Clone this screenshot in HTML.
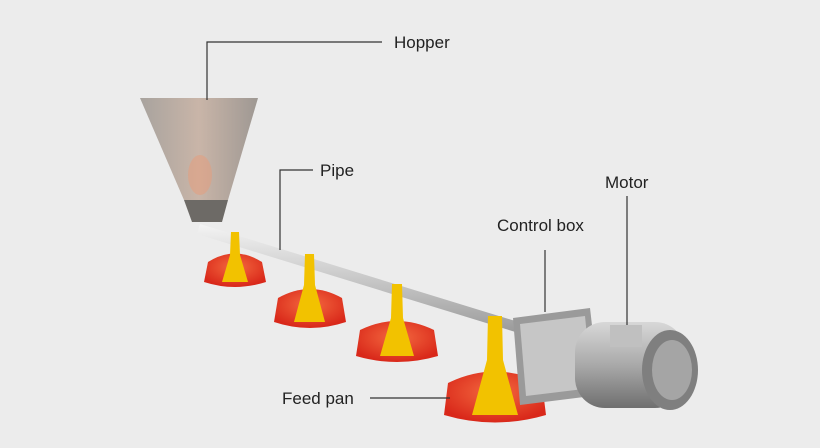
<!DOCTYPE html>
<html><head><meta charset="utf-8"><style>
html,body{margin:0;padding:0;background:#ececec;}
svg{display:block}
text{font-family:"Liberation Sans",sans-serif;font-size:17px;fill:#222}
</style></head><body>
<svg width="820" height="448" viewBox="0 0 820 448">
<defs>
<linearGradient id="hop" x1="0" x2="1"><stop offset="0" stop-color="#a8a39e"/><stop offset="0.5" stop-color="#c9b5a8"/><stop offset="1" stop-color="#9e9893"/></linearGradient>
<linearGradient id="pipe" x1="0" y1="0" x2="0" y2="1"><stop offset="0" stop-color="#f4f4f4"/><stop offset="0.5" stop-color="#c8c8c8"/><stop offset="1" stop-color="#999"/></linearGradient>
<radialGradient id="pan" cx="0.5" cy="0.4" r="0.6"><stop offset="0" stop-color="#f46a40"/><stop offset="1" stop-color="#d9281a"/></radialGradient>
<linearGradient id="mot" x1="0" y1="0" x2="0" y2="1"><stop offset="0" stop-color="#d8d8d8"/><stop offset="0.5" stop-color="#a9a9a9"/><stop offset="1" stop-color="#6f6f6f"/></linearGradient>
</defs>
<rect width="820" height="448" fill="#ececec"/>
<polygon points="140,98 258,98 228,200 184,200" fill="url(#hop)"/>
<polygon points="184,200 228,200 222,222 192,222" fill="#6d6a66"/>
<ellipse cx="200" cy="175" rx="12" ry="20" fill="#e79b7a" opacity="0.5"/>
<polygon points="200,224 525,324 522,334 197,234" fill="url(#pipe)"/>
<g>
<path d="M208,262 Q235,245 262,262 L266,282 Q235,292 204,282 Z" fill="url(#pan)"/>
<polygon points="231,232 239,232 240,255 248,282 222,282 230,255" fill="#f2c200"/>
</g>
<g>
<path d="M278,298 Q310,280 342,298 L346,322 Q310,334 274,322 Z" fill="url(#pan)"/>
<polygon points="305,254 314,254 315,285 325,322 294,322 304,285" fill="#f2c200"/>
</g>
<g>
<path d="M360,330 Q397,312 434,330 L438,356 Q397,368 356,356 Z" fill="url(#pan)"/>
<polygon points="392,284 402,284 403,318 414,356 380,356 391,318" fill="#f2c200"/>
</g>
<g>
<path d="M448,383 Q495,360 542,383 L546,415 Q495,430 444,415 Z" fill="url(#pan)"/>
<polygon points="488,316 502,316 503,360 518,415 472,415 487,360" fill="#f2c200"/>
</g>
<polygon points="513,318 590,308 600,395 520,405" fill="#9a9a9a"/>
<polygon points="520,324 585,316 592,388 526,396" fill="#c6c6c6"/>
<rect x="575" y="322" width="110" height="86" rx="30" fill="url(#mot)"/>
<ellipse cx="670" cy="370" rx="28" ry="40" fill="#7f7f7f"/>
<ellipse cx="672" cy="370" rx="20" ry="30" fill="#a5a5a5"/>
<rect x="610" y="325" width="32" height="22" fill="#c0c0c0"/>
<g stroke="#333" stroke-width="1.2" fill="none">
<polyline points="207,100 207,42 382,42"/>
<polyline points="280,250 280,170 313,170"/>
<line x1="627" y1="196" x2="627" y2="325"/>
<line x1="545" y1="250" x2="545" y2="312"/>
<line x1="370" y1="398" x2="450" y2="398"/>
</g>
<text x="394" y="48">Hopper</text>
<text x="320" y="176">Pipe</text>
<text x="605" y="188">Motor</text>
<text x="497" y="231">Control box</text>
<text x="282" y="404">Feed pan</text>
</svg>
</body></html>
